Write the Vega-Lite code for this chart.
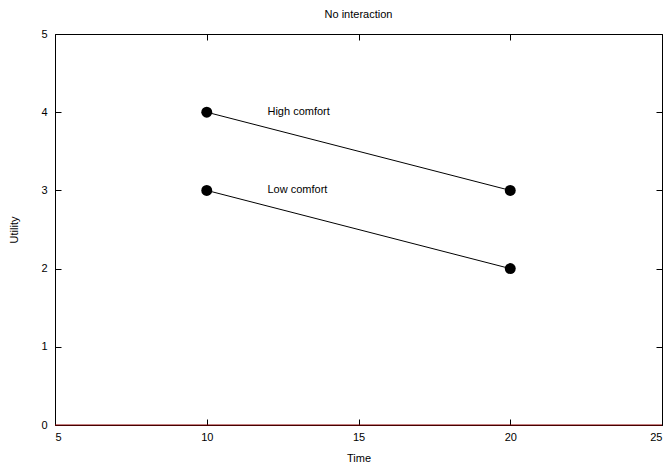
{
  "$schema": "https://vega.github.io/schema/vega-lite/v6.json",
  "autosize": "none",
  "width": 607,
  "height": 391,
  "padding": {"left": 55, "top": 34, "right": 10, "bottom": 40},
  "background": "white",
  "title": {"text": "No interaction", "fontSize": 11, "font": "Liberation Sans", "fontWeight": "normal", "color": "black", "anchor": "middle", "offset": 8},
  "config": {
    "view": {"stroke": "black", "strokeWidth": 1},
    "axis": {"labelFont": "Liberation Sans", "titleFont": "Liberation Sans", "labelFontSize": 11, "titleFontSize": 11, "titleFontWeight": "normal", "labelColor": "black", "titleColor": "black", "grid": false, "domain": false, "tickColor": "black", "tickSize": -6, "labelPadding": 12}
  },
  "datasets": {
    "lines": [
      {"series": "High comfort", "time": 10, "utility": 4},
      {"series": "High comfort", "time": 20, "utility": 3},
      {"series": "Low comfort", "time": 10, "utility": 3},
      {"series": "Low comfort", "time": 20, "utility": 2},
      {"series": "zero", "time": 5, "utility": 0},
      {"series": "zero", "time": 25, "utility": 0}
    ],
    "labels": [
      {"label": "High comfort", "time": 12, "utility": 4},
      {"label": "Low comfort", "time": 12, "utility": 3}
    ]
  },
  "layer": [
    {
      "data": {"name": "lines"},
      "mark": {"type": "line", "strokeWidth": 1},
      "encoding": {
        "x": {"field": "time", "type": "quantitative", "scale": {"domain": [5, 25], "nice": false, "zero": false}, "axis": {"values": [5, 10, 15, 20, 25], "title": "Time", "titleY": 36, "titleBaseline": "alphabetic", "labelPadding": 12}},
        "y": {"field": "utility", "type": "quantitative", "scale": {"domain": [0, 5], "nice": false}, "axis": {"values": [0, 1, 2, 3, 4, 5], "title": "Utility", "titleX": -36, "labelPadding": 14}},
        "detail": {"field": "series"},
        "color": {"field": "series", "type": "nominal", "scale": {"domain": ["High comfort", "Low comfort", "zero"], "range": ["black", "black", "#8b0000"]}, "legend": null}
      }
    },
    {
      "data": {"name": "lines"},
      "transform": [{"filter": "datum.series !== 'zero'"}],
      "mark": {"type": "circle", "size": 120, "opacity": 1, "color": "black"},
      "encoding": {
        "x": {"field": "time", "type": "quantitative", "axis": null},
        "y": {"field": "utility", "type": "quantitative", "axis": null}
      }
    },
    {
      "data": {"name": "labels"},
      "mark": {"type": "text", "align": "left", "baseline": "middle", "font": "Liberation Sans", "fontSize": 11, "color": "black"},
      "encoding": {
        "x": {"field": "time", "type": "quantitative", "axis": null},
        "y": {"field": "utility", "type": "quantitative", "axis": null},
        "text": {"field": "label"}
      }
    },
    {
      "data": {"name": "lines"},
      "mark": {"type": "line", "opacity": 0},
      "encoding": {
        "x": {"field": "time", "type": "quantitative", "axis": {"orient": "top", "values": [5, 10, 15, 20, 25], "labels": false, "title": null}},
        "y": {"field": "utility", "type": "quantitative", "axis": {"orient": "right", "values": [0, 1, 2, 3, 4, 5], "labels": false, "title": null}},
        "detail": {"field": "series"}
      }
    }
  ],
  "resolve": {"axis": {"x": "independent", "y": "independent"}}
}
